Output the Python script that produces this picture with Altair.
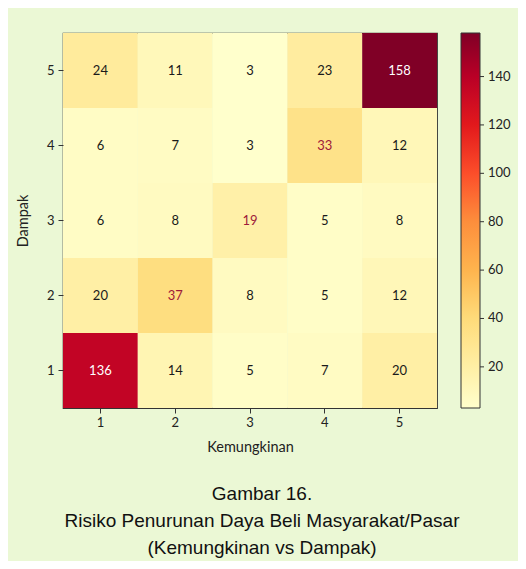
import altair as alt
import pandas as pd

kemungkinan = [1, 2, 3, 4, 5]
dampak = [5, 4, 3, 2, 1]
values = [
    [24, 11, 3, 23, 158],
    [6, 7, 3, 33, 12],
    [6, 8, 19, 5, 8],
    [20, 37, 8, 5, 12],
    [136, 14, 5, 7, 20],
]
K = "#1a1a1a"
R = "#9e1a3a"
W = "#ffffff"
text_colors = [
    [K, K, K, K, W],
    [K, K, K, R, K],
    [K, K, R, K, K],
    [K, R, K, K, K],
    [W, K, K, K, K],
]
caption = ["Gambar 16.", "Risiko Penurunan Daya Beli Masyarakat/Pasar", "(Kemungkinan vs Dampak)"]
legend_ticks = [20, 40, 60, 80, 100, 120, 140]
color_domain = [3, 158]
# YlOrRd colour stops (matplotlib)
ylorrd = ["#ffffcc", "#ffeda0", "#fed976", "#feb24c", "#fd8d3c",
          "#fc4e2a", "#e31a1c", "#bd0026", "#800026"]
n = len(ylorrd) - 1
stops = [color_domain[0] + (color_domain[1] - color_domain[0]) * i / n for i in range(n + 1)]

rows = []
for i, d in enumerate(dampak):
    for j, k in enumerate(kemungkinan):
        rows.append({"Kemungkinan": k, "Dampak": d, "Nilai": values[i][j], "tc": text_colors[i][j]})
df = pd.DataFrame(rows)
ticks_df = pd.DataFrame({"v": legend_ticks})

FONT = "Lato"
xenc = alt.X("Kemungkinan:O", title="Kemungkinan",
             scale=alt.Scale(paddingInner=0, paddingOuter=0),
             axis=alt.Axis(labelAngle=0, titlePadding=11, labelPadding=3))
yenc = alt.Y("Dampak:O", title="Dampak", sort="descending",
             scale=alt.Scale(paddingInner=0, paddingOuter=0),
             axis=alt.Axis(titlePadding=16, labelPadding=4))

base = alt.Chart(df)
rect = base.mark_rect().encode(
    x=xenc, y=yenc,
    color=alt.Color("Nilai:Q",
                    scale=alt.Scale(domain=stops, range=ylorrd, interpolate="rgb"),
                    legend=alt.Legend(title=None, orient="none", legendX=398, legendY=0,
                                      direction="vertical", gradientLength=375,
                                      gradientThickness=19, values=legend_ticks,
                                      gradientStrokeColor="#333", gradientStrokeWidth=1,
                                      labelFont=FONT, labelFontSize=13, labelColor="#222",
                                      labelOffset=8, padding=0)),
)
text = base.mark_text(font=FONT, fontSize=13).encode(
    x=xenc, y=yenc,
    text="Nilai:Q",
    color=alt.Color("tc:N", scale=None, legend=None),
)
heat = alt.layer(rect, text).resolve_scale(color="independent")

cbar_ticks = alt.Chart(ticks_df).mark_rule(color="#333", strokeWidth=1).encode(
    y=alt.Y("v:Q", scale=alt.Scale(domain=color_domain, nice=False, zero=False), axis=None),
    x=alt.value(417), x2=alt.value(421),
)

chart = alt.layer(heat, cbar_ticks).resolve_scale(y="independent").properties(
    width=374, height=375,
    autosize=alt.AutoSizeParams(type="none"),
    padding={"left": 55, "top": 25, "right": 81, "bottom": 153},
    background="#EBF8D5",
    title=alt.TitleParams(text=caption, orient="bottom", anchor="middle",
                          font="Liberation Sans", fontSize=19, fontWeight="normal",
                          color="#111", lineHeight=27, offset=31, dx=12),
).configure_view(stroke="#333", strokeWidth=1.2).configure_axis(
    labelFont=FONT, labelFontSize=13, labelColor="#222",
    titleFont=FONT, titleFontSize=14.5, titleFontWeight="normal", titleColor="#222",
    tickColor="#333", tickSize=5, domain=False,
)

chart.save("out.html", embed_options={"renderer": "svg", "actions": False})
